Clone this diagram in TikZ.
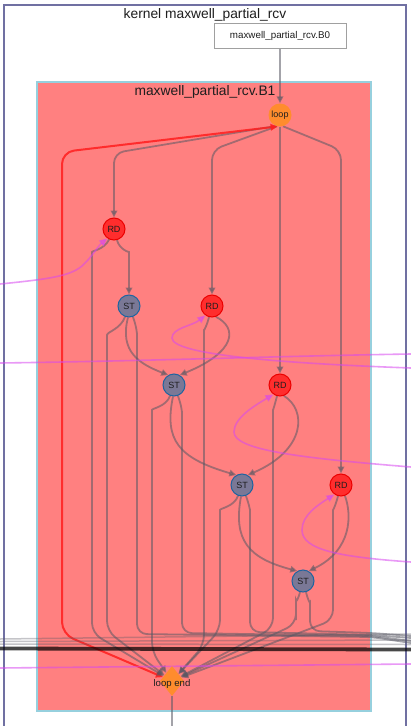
\documentclass[tikz,border=0pt]{standalone}
\usepackage{fontspec}
\setmainfont{Liberation Sans}
\usetikzlibrary{arrows.meta,shapes.geometric}
\pgfdeclarelayer{bg}
\pgfdeclarelayer{edges}
\pgfsetlayers{bg,edges,main}
\definecolor{kframe}{RGB}{112,112,162}
\definecolor{cborder}{RGB}{150,208,222}
\definecolor{cfill}{RGB}{255,128,128}
\definecolor{rdfill}{RGB}{255,45,45}
\definecolor{rdborder}{RGB}{235,0,0}
\definecolor{stfill}{RGB}{122,120,150}
\definecolor{stborder}{RGB}{30,100,160}
\definecolor{orng}{RGB}{255,140,45}
\definecolor{egray}{RGB}{88,88,100}
\definecolor{redge}{RGB}{255,30,30}
\definecolor{pinkc}{RGB}{215,70,240}
\definecolor{boxborder}{RGB}{160,160,160}
\definecolor{txt}{RGB}{30,30,30}
\begin{document}
\begin{tikzpicture}[x=1pt,y=1pt,
  tip/.tip={Triangle[length=7pt,width=6.5pt]},
  edge/.style={draw=egray, opacity=0.55, line width=1.8pt, rounded corners=10pt, -tip},
  edgeout/.style={draw=egray, opacity=0.55, line width=1.8pt, rounded corners=10pt},
  backedge/.style={draw=redge, opacity=0.85, line width=2pt, rounded corners=12pt, tip-tip},
  pinkedge/.style={draw=pinkc, opacity=0.55, line width=1.6pt},
  pinkarrow/.style={pinkedge, -{Triangle[length=8pt,width=7pt]}},
  bundle/.style={draw=egray, opacity=0.35, line width=1.5pt},
  nodefont/.style={font=\fontsize{9}{9}\selectfont, text=txt},
  rdnode/.style={circle, fill=rdfill, draw=rdborder, line width=1pt, minimum size=22pt, inner sep=0pt, nodefont},
  stnode/.style={circle, fill=stfill, draw=stborder, line width=1pt, minimum size=22pt, inner sep=0pt, nodefont},
  loopnode/.style={circle, fill=orng, minimum size=23pt, inner sep=0pt, nodefont},
  lenode/.style={diamond, fill=orng, minimum width=24pt, minimum height=30pt, inner sep=0pt},
  titlefont/.style={font=\fontsize{13.8}{14}\selectfont, text=txt}
]
\useasboundingbox (0,0) rectangle (411,-726);

\begin{pgfonlayer}{bg}
  \fill[white] (0,0) rectangle (411,-726);
  \draw[kframe, line width=1.6pt] (4,-727) -- (4,-5) -- (406,-5) -- (406,-727);
  \draw[draw=cborder, fill=cfill, line width=2.5pt] (37,-82) rectangle (371,-711);
\end{pgfonlayer}

% titles
\node[titlefont, anchor=base] (ktitle) at (205,-18.5) {kernel maxwell\_partial\_rcv};
\node[titlefont, anchor=base] (b1title) at (205,-95) {maxwell\_partial\_rcv.B1};
\node[draw=boxborder, fill=white, line width=1pt, minimum width=132pt, minimum height=25pt, inner sep=0pt,
      font=\fontsize{9.8}{10}\selectfont, text=txt] (b0) at (280,-35.5) {maxwell\_partial\_rcv.B0};

% nodes
\node[loopnode] (loop) at (280,-115) {loop};
\node[rdnode] (rd1) at (114,-229) {RD};
\node[stnode] (st1) at (129,-306) {ST};
\node[rdnode] (rd2) at (212,-306) {RD};
\node[stnode] (st2) at (174,-385) {ST};
\node[rdnode] (rd3) at (280,-385) {RD};
\node[stnode] (st3) at (242,-485) {ST};
\node[rdnode] (rd4) at (341,-485) {RD};
\node[stnode] (st4) at (303,-581) {ST};
\node[lenode] (le) at (172,-681) {};
\node[font=\fontsize{9.6}{10}\selectfont, text=txt, anchor=base] (lelabel) at (172,-686) {loop end};

% free ends
\coordinate (out1) at (411,-643);
\coordinate (out2) at (411,-641);
\coordinate (out3) at (411,-638);
\coordinate (out4) at (411,-636);
\coordinate (leout) at (172,-726);
\coordinate (pin1) at (0,-284);
\coordinate (pin2) at (411,-368);
\coordinate (pin3) at (411,-467);
\coordinate (pin4) at (411,-562);
\coordinate (ph1a) at (0,-363);
\coordinate (ph1b) at (411,-354);
\coordinate (pb1) at (0,-668);
\coordinate (pb2) at (411,-664);
\coordinate (bl1) at (0,-639);   \coordinate (br1) at (411,-634);
\coordinate (bl2) at (0,-641.5); \coordinate (br2) at (411,-640);
\coordinate (bl3) at (0,-644);   \coordinate (br3) at (411,-644.5);
\coordinate (bl4) at (0,-648.5); \coordinate (br4) at (411,-649.5);

\begin{pgfonlayer}{edges}
  % entry
  \draw[edge] (b0) -- (loop);
  % loop -> reads
  \draw[edge] (loop.250) -- (114,-153) -- (rd1);
  \draw[edge] (loop.255) -- (212,-150) -- (rd2);
  \draw[edge] (loop) -- (rd3);
  \draw[edge] (loop.285) -- (341,-150) -- (rd4);
  % back edge
  \draw[backedge] (le) -- (62,-634) -- (62,-152) -- (loop.258);

  % RD1
  \draw[edge] (rd1.-75) to[out=-75,in=90] (129,-262) -- (st1);
  \draw[edge] (rd1.-115) to[out=-115,in=90] (92,-262) -- (92,-633) -- (le);
  % ST1
  \draw[edge] (st1.-110) to[out=-110,in=90] (107,-345) -- (107,-631) -- (le);
  \draw[edgeout] (st1.-70) to[out=-70,in=90] (137,-345) -- (137,-634) -- (372,-637) -- (out1);
  \draw[edge] (st1.-95) .. controls (119,-352) and (140,-364) .. (st2.120);
  % RD2
  \draw[edge] (rd2.-105) to[out=-105,in=90] (204,-340) -- (204,-645) -- (le);
  \draw[edge] (rd2.-70) .. controls (238,-328) and (236,-352) .. (st2.60);
  % ST2
  \draw[edge] (st2.-110) to[out=-110,in=90] (152,-420) -- (152,-652) -- (le);
  \draw[edgeout] (st2.-70) to[out=-70,in=90] (182,-423) -- (182,-633) -- (372,-636) -- (out2);
  \draw[edge] (st2.-95) .. controls (164,-440) and (178,-458) .. (st3.120);
  % RD3
  \draw[edge] (rd3.-105) to[out=-105,in=90] (273,-420) -- (273,-628) -- (le);
  \draw[edge] (rd3.-70) .. controls (307,-410) and (306,-450) .. (st3.60);
  % ST3
  \draw[edge] (st3.-110) to[out=-110,in=90] (220,-520) -- (220,-630) -- (le);
  \draw[edgeout] (st3.-70) to[out=-70,in=90] (250,-520) -- (250,-632) -- (372,-635) -- (out3);
  \draw[edge] (st3.-95) .. controls (233,-540) and (248,-558) .. (st4.120);
  % RD4
  \draw[edge] (rd4.-105) to[out=-105,in=90] (333,-520) -- (333,-620) -- (le);
  \draw[edge] (rd4.-70) .. controls (352,-515) and (352,-550) .. (st4.60);
  % ST4
  \draw[edge] (st4.-105) to[out=-105,in=90] (296,-610) -- (296,-624) -- (le);
  \draw[edgeout] (st4.-75) to[out=-75,in=90] (310,-612) -- (310,-631) -- (372,-633) -- (out4);
  % loop end exit
  \draw[edgeout] (le) -- (leout);

  % through bundle
  \draw[bundle] (bl1) -- (br1);
  \draw[bundle] (bl2) -- (br2);
  \draw[bundle] (bl3) -- (br3);
  \draw[draw=black, opacity=0.72, line width=3.8pt] (bl4) -- (br4);

  % pink (cross-kernel) edges
  \draw[pinkarrow] (pin1) .. controls (50,-279) and (70,-276) .. (82,-266) .. controls (92,-257) and (98,-246) .. (rd1.-125);
  \draw[pinkarrow] (pin2) .. controls (300,-364) and (172,-356) .. (172,-338) .. controls (172,-328) and (192,-326) .. (rd2.-125);
  \draw[pinkedge] (ph1a) .. controls (150,-361) and (280,-356) .. (ph1b);
  \draw[pinkarrow] (pin3) .. controls (300,-458) and (234,-450) .. (234,-432) .. controls (234,-418) and (254,-406) .. (rd3.-125);
  \draw[pinkarrow] (pin4) .. controls (340,-557) and (302,-550) .. (302,-530) .. controls (302,-515) and (318,-505) .. (rd4.-125);
  \draw[pinkedge] (pb1) -- (pb2);
\end{pgfonlayer}
\end{tikzpicture}
\end{document}
